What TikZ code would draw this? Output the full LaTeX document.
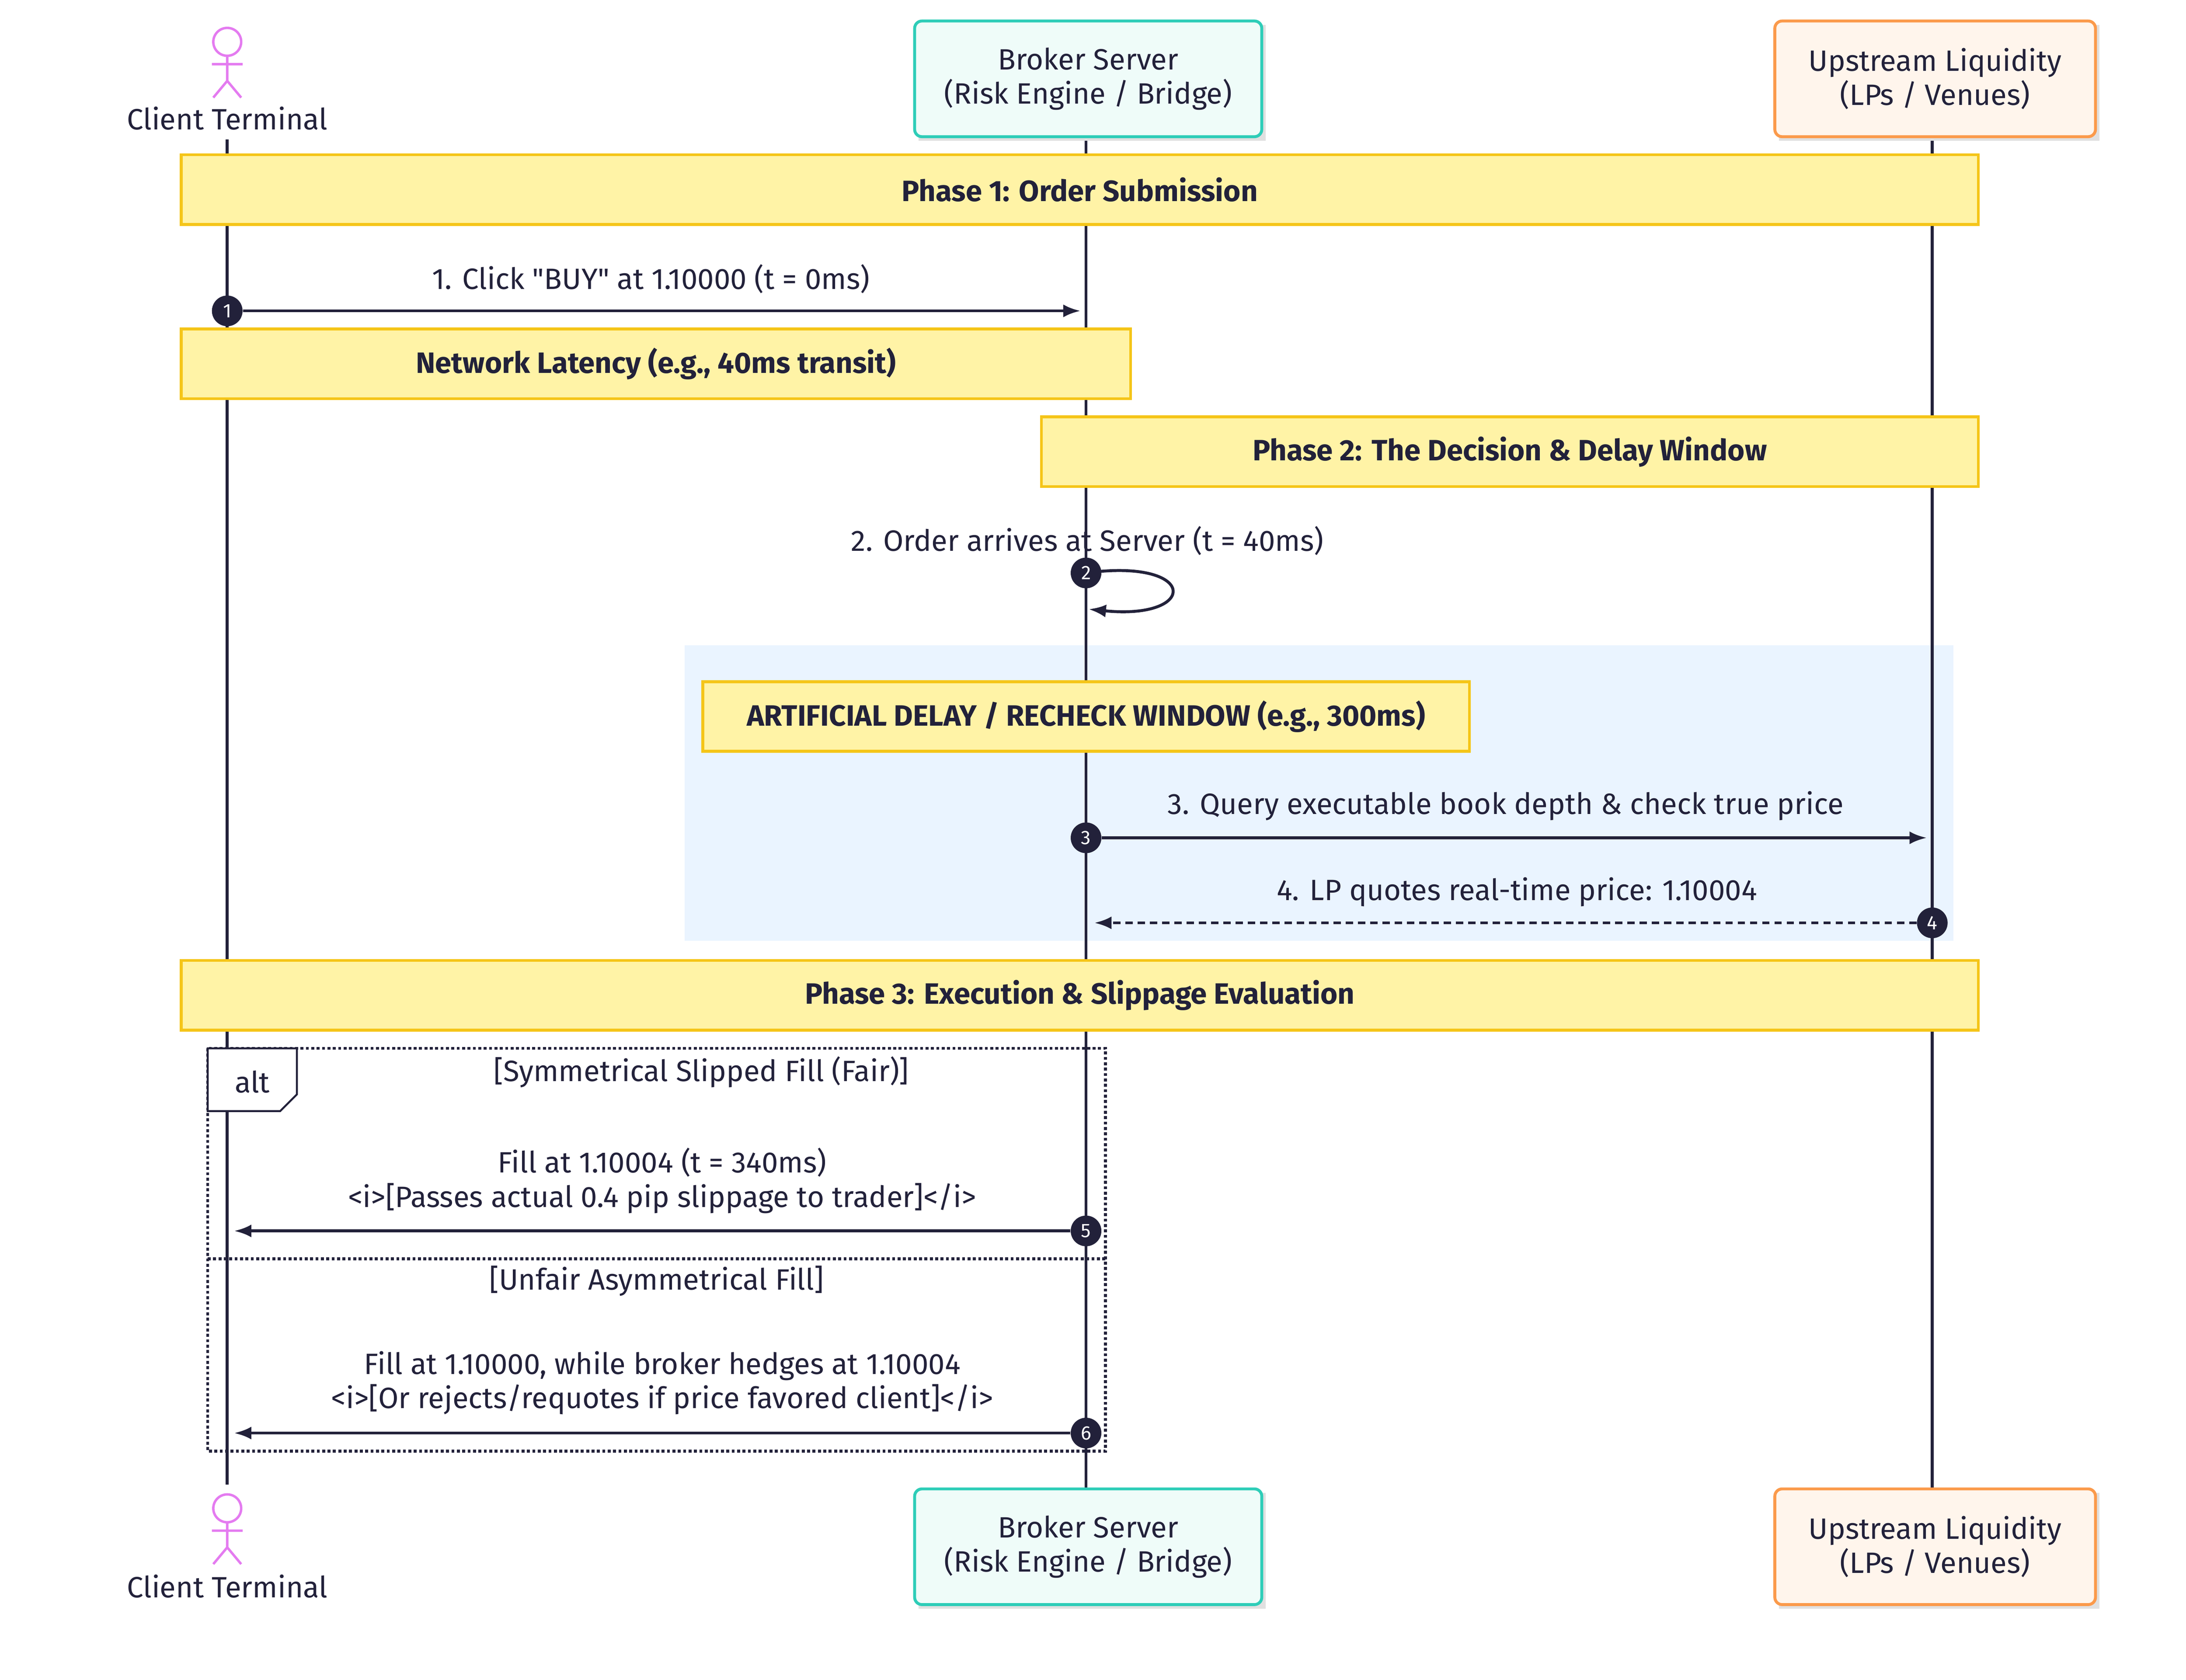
\documentclass[tikz,border=0pt]{standalone}
\usepackage{fontspec}
\setmainfont{Fira Sans}
\usetikzlibrary{calc,arrows.meta,positioning}
\definecolor{ink}{HTML}{22213A}
\definecolor{notefill}{HTML}{FFF3A6}
\definecolor{noteline}{HTML}{F5C518}
\definecolor{tealline}{HTML}{2ECDB8}
\definecolor{tealfill}{HTML}{EFFCF9}
\definecolor{orline}{HTML}{FB9A4B}
\definecolor{orfill}{HTML}{FFF5EC}
\definecolor{bluefill}{HTML}{EAF4FF}
\definecolor{actcol}{HTML}{E47BF0}
\tikzset{
  note/.style={draw=noteline,fill=notefill,line width=1.2pt,text=ink,font=\bfseries\large},
  party/.style={rounded corners=3pt,line width=1.2pt,text=ink,align=center,font=\large,inner sep=0pt},
  msg/.style={-{Latex[length=7pt]},line width=1.2pt,ink},
  lbl/.style={text=ink,font=\large,align=center},
  num/.style={circle,fill=ink,text=white,inner sep=0pt,minimum size=0.44cm,font=\footnotesize},
}
\newcommand{\stickman}[1]{%
  \draw[actcol,line width=1pt] ($(#1)+(0,-10)$) circle (10) ($(#1)+(0,0)$) -- ($(#1)+(0,18)$)
    ($(#1)+(-11,6)$) -- ($(#1)+(11,6)$) ($(#1)+(-10,30)$) -- ($(#1)+(0,18)$) -- ($(#1)+(10,30)$);}
\begin{document}
\begin{tikzpicture}[x=0.02cm,y=-0.02cm]
\useasboundingbox (0,0) rectangle (1568,1205);
% lifelines
\draw[ink,line width=1.2pt] (163,100) -- (163,1065);
\draw[ink,line width=1.2pt] (779,97) -- (779,1067);
\draw[ink,line width=1.2pt] (1386,97) -- (1386,1067);
% participants
\foreach \y/\n in {14/top,1067/bot}{
  \fill[black!12] (659,\y+4) rectangle ++(249,83);
  \node[party,draw=tealline,fill=tealfill,minimum width=249*0.02cm,minimum height=83*0.02cm,anchor=north west] (broker\n) at (655,\y) {Broker Server\\(Risk Engine / Bridge)};
  \fill[black!12] (1276,\y+4) rectangle ++(230,83);
  \node[party,draw=orline,fill=orfill,minimum width=230*0.02cm,minimum height=83*0.02cm,anchor=north west] (lp\n) at (1272,\y) {Upstream Liquidity\\(LPs / Venues)};
}
\coordinate (clienttop) at (163,40);
\stickman{clienttop}
\node[lbl] (clientlbltop) at (163,85) {Client Terminal};
\coordinate (clientbot) at (163,1092);
\stickman{clientbot}
\node[lbl] (clientlblbot) at (163,1138) {Client Terminal};
% phase 1
\node[note,minimum width=1289*0.02cm,minimum height=50*0.02cm] (phase1) at (774.5,136) {Phase 1: Order Submission};
\coordinate (b1) at (775,223);
\node[num] (n1) at (163,223) {1};
\draw[msg] (n1) -- (b1);
\node[lbl] (m1) at (467,200) {1. Click \textquotedbl BUY\textquotedbl\ at 1.10000 (t = 0ms)};
\node[note,minimum width=681*0.02cm,minimum height=50*0.02cm] (latency) at (470.5,261) {Network Latency (e.g., 40ms transit)};
% phase 2
\node[note,minimum width=672*0.02cm,minimum height=50*0.02cm] (phase2) at (1083,324) {Phase 2: The Decision \& Delay Window};
\node[lbl] (m2) at (780,388) {2. Order arrives at Server (t = 40ms)};
\coordinate (self) at (781,437);
\draw[msg] (779,411) .. controls (860,400) and (860,445) .. (self);
\node[num] (n2) at (779,411) {2};
\fill[bluefill] (491,463) rectangle (1401,675);
\draw[ink,line width=1.2pt] (779,463) -- (779,675) (1386,463) -- (1386,675);
\node[note,minimum width=550*0.02cm,minimum height=50*0.02cm] (delay) at (779,514) {ARTIFICIAL DELAY / RECHECK WINDOW (e.g., 300ms)};
\coordinate (lp3) at (1382,601);
\node[num] (n3) at (779,601) {3};
\draw[msg] (n3) -- (lp3);
\node[lbl] (m3) at (1080,578) {3. Query executable book depth \& check true price};
\coordinate (b4) at (785,662);
\node[num] (n4) at (1386,662) {4};
\draw[msg,dash pattern=on 3pt off 2pt] (n4) -- (b4);
\node[lbl] (m4) at (1088,640) {4. LP quotes real-time price: 1.10004};
% phase 3
\node[note,minimum width=1289*0.02cm,minimum height=50*0.02cm] (phase3) at (774.5,714) {Phase 3: Execution \& Slippage Evaluation};
\draw[ink,line width=1.2pt,densely dotted] (149,752) rectangle (793,1041);
\draw[ink,line width=1.2pt,densely dotted] (149,903) -- (793,903);
\draw[ink,fill=white,line width=0.8pt] (149,752) -- (213,752) -- (213,785) -- (201,797) -- (149,797) -- cycle;
\node[lbl] (alt) at (181,776) {alt};
\node[lbl] (g1) at (503,769) {[Symmetrical Slipped Fill (Fair)]};
\node[lbl] (m5) at (475,847) {Fill at 1.10004 (t = 340ms)\\<i>[Passes actual 0.4 pip slippage to trader]</i>};
\coordinate (c5) at (168,883);
\node[num] (n5) at (779,883) {5};
\draw[msg] (n5) -- (c5);
\node[lbl] (g2) at (471,919) {[Unfair Asymmetrical Fill]};
\node[lbl] (m6) at (475,992) {Fill at 1.10000, while broker hedges at 1.10004\\<i>[Or rejects/requotes if price favored client]</i>};
\coordinate (c6) at (168,1028);
\node[num] (n6) at (779,1028) {6};
\draw[msg] (n6) -- (c6);
\end{tikzpicture}
\end{document}
